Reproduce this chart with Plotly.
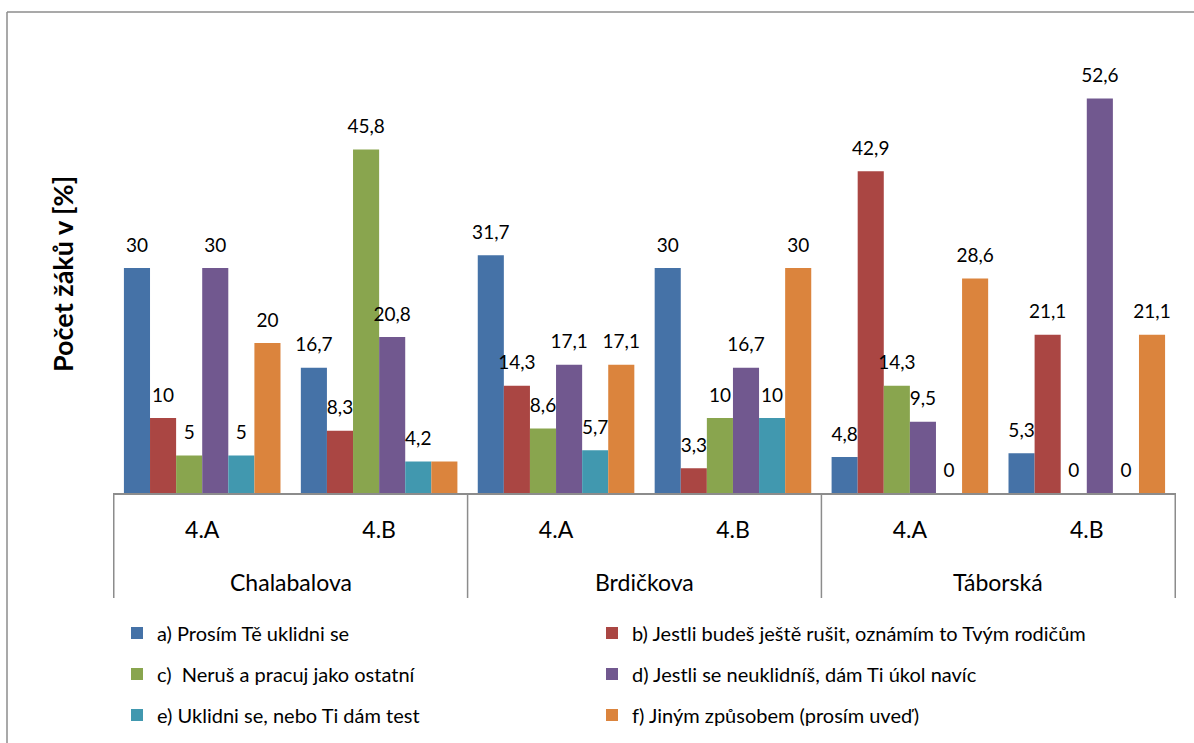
import plotly.graph_objects as go

# Category hierarchy: teacher (outer) and class (inner)
teachers = ["Chalabalova", "Chalabalova", "Brdičkova", "Brdičkova", "Táborská", "Táborská"]
classes = ["4.A", "4.B", "4.A", "4.B", "4.A", "4.B"]

series_names = [
    "a) Prosím Tě uklidni se",
    "b) Jestli budeš ještě rušit, oznámím to Tvým rodičům",
    "c)  Neruš a pracuj jako ostatní",
    "d) Jestli se neuklidníš, dám Ti úkol navíc",
    "e) Uklidni se, nebo Ti dám test",
    "f) Jiným způsobem (prosím uveď)",
]

a_vals = [30, 16.7, 31.7, 30, 4.8, 5.3]
b_vals = [10, 8.3, 14.3, 3.3, 42.9, 21.1]
c_vals = [5, 45.8, 8.6, 10, 14.3, 0]
d_vals = [30, 20.8, 17.1, 16.7, 9.5, 52.6]
e_vals = [5, 4.2, 5.7, 10, 0, 0]
f_vals = [20, 4.2, 17.1, 30, 28.6, 21.1]

# the "f" bar of Chalabalova 4.B carries no value label
f_labelled = [True, False, True, True, True, True]

colors = ["#4572A7", "#AA4643", "#89A54E", "#71588F", "#4198AF", "#DB843D"]

series_vals = [a_vals, b_vals, c_vals, d_vals, e_vals, f_vals]
label_masks = [None, None, None, None, None, f_labelled]
# legend columns: a, c, e on the left; b, d, f on the right
legend_ids = ["legend", "legend2", "legend", "legend2", "legend", "legend2"]

FONT = "Lato, 'Open Sans', sans-serif"
GRID = "#8C8C8C"

# one category per (teacher, class) pair
categories = [f"{t} {c}" for t, c in zip(teachers, classes)]


def fmt(v):
    return f"{v:g}".replace(".", ",")


fig = go.Figure()
for i, (name, vals, col, lg) in enumerate(zip(series_names, series_vals, colors, legend_ids)):
    fig.add_trace(go.Bar(
        x=categories, y=vals, name=name,
        marker=dict(color=col, line=dict(width=0)),
        offsetgroup=str(i), alignmentgroup="g",
        legend=lg, legendgroup=f"s{i}",
    ))

# value labels, grouped the same way as the bars and lifted above each bar top
for i, (vals, mask) in enumerate(zip(series_vals, label_masks)):
    labels = [fmt(v) if (mask is None or mask[k]) else "" for k, v in enumerate(vals)]
    fig.add_trace(go.Scatter(
        x=categories, y=vals, mode="markers+text", text=labels,
        textposition="top center",
        textfont=dict(family=FONT, size=19, color="#000000"),
        marker=dict(size=17, color="rgba(0,0,0,0)"),
        offsetgroup=str(i), alignmentgroup="g",
        showlegend=False, hoverinfo="skip", cliponaxis=False,
    ))

# plot area in pixels: x 113..1176, y 43..493
L, R, T, B = 113, 18, 43, 250
W, H = 1194, 743
pw, ph = W - L - R, H - T - B


def px(x):
    return (x - L) / pw


def py(y):
    return (H - B - y) / ph


# teacher labels centred under their classes, dividers on group edges
annotations = []
shapes = []
start = 0
for k in range(1, len(teachers) + 1):
    if k == len(teachers) or teachers[k] != teachers[start]:
        annotations.append(dict(
            x=(start + k - 1) / 2, xref="x", y=py(582), yref="paper",
            text=teachers[start], showarrow=False, yanchor="middle",
            font=dict(family=FONT, size=23, color="#000000"),
        ))
        shapes.append(dict(type="line", xref="x", yref="paper",
                           x0=start - 0.5, x1=start - 0.5, y0=0, y1=py(598),
                           line=dict(color=GRID, width=1.5)))
        start = k
shapes.append(dict(type="line", xref="x", yref="paper",
                   x0=len(teachers) - 0.5, x1=len(teachers) - 0.5, y0=0, y1=py(598),
                   line=dict(color=GRID, width=1.5)))

# vertical axis caption
annotations.append(dict(
    x=px(62), xref="paper", y=py(274), yref="paper",
    text="<b>Počet žáků v [%]</b>", textangle=-90, showarrow=False,
    xanchor="center", yanchor="middle",
    font=dict(family=FONT, size=27, color="#000000"),
))

# outer frame
shapes += [
    dict(type="line", xref="paper", yref="paper",
         x0=px(7), x1=px(7), y0=py(12), y1=py(H + 5),
         line=dict(color=GRID, width=1.5)),
    dict(type="line", xref="paper", yref="paper",
         x0=px(7), x1=px(W + 5), y0=py(12), y1=py(12),
         line=dict(color=GRID, width=1.5)),
]

legend_common = dict(
    orientation="v",
    xanchor="left", yanchor="middle",
    y=py(674),
    tracegroupgap=12,
    font=dict(family=FONT, size=20, color="#000000"),
    bgcolor="rgba(0,0,0,0)",
    traceorder="grouped",
)

fig.update_layout(
    width=W, height=H,
    margin=dict(l=L, r=R, t=T, b=B, autoexpand=False),
    paper_bgcolor="white",
    plot_bgcolor="white",
    barmode="group", bargap=0.115, bargroupgap=0,
    scattermode="group", scattergap=0.115,
    font=dict(family=FONT, size=19, color="#000000"),
    xaxis=dict(
        type="category",
        tickvals=categories, ticktext=classes,
        showline=True, linecolor=GRID, linewidth=1.5,
        ticks="outside", ticklen=16, tickcolor="rgba(0,0,0,0)",
        tickfont=dict(family=FONT, size=23, color="#000000"),
        showgrid=False, zeroline=False, automargin=False,
    ),
    yaxis=dict(
        range=[0, 60],
        showticklabels=False, showgrid=False, zeroline=False, showline=False,
        ticks="", automargin=False,
    ),
    legend=dict(x=px(117), **legend_common),
    legend2=dict(x=px(592), **legend_common),
    annotations=annotations,
    shapes=shapes,
)

fig.write_html("out.html")
